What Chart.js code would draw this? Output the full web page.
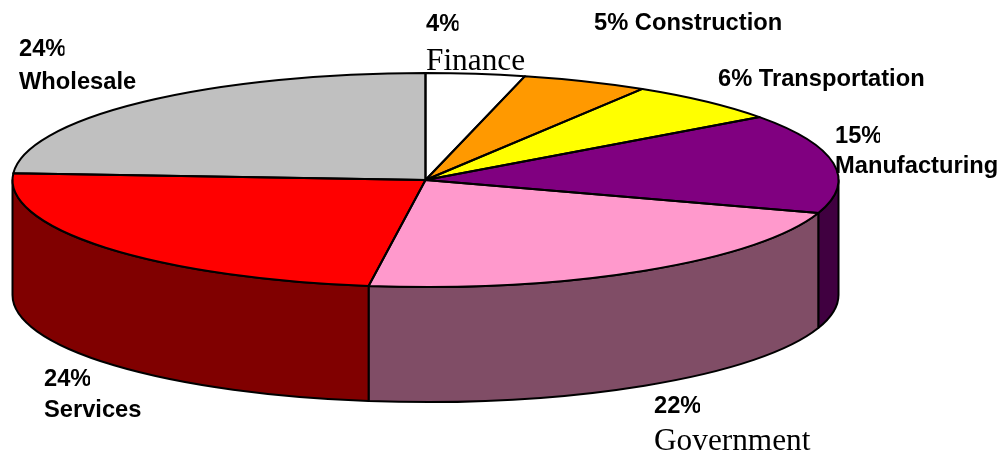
<!DOCTYPE html>
<html>
<head>
<meta charset="utf-8">
<style>
  html, body { margin: 0; padding: 0; background: #fff; }
  canvas { display: block; }
</style>
<script src="https://cdn.jsdelivr.net/npm/chart.js@4"></script>
</head>
<body>
<canvas id="myChart" width="1003" height="456"></canvas>
<script>
const categories = ["Finance", "Construction", "Transportation", "Manufacturing", "Government", "Services", "Wholesale"];
// slice sizes, the labels show them rounded
const shares = [3.87, 4.93, 6.2, 15, 22.2, 23.8, 24];
const topColors = ["#FFFFFF", "#FF9900", "#FFFF00", "#800080", "#FF99CC", "#FF0000", "#C0C0C0"];
const sideColors = ["#808080", "#804D00", "#808000", "#400040", "#804D66", "#800000", "#606060"];

// flattened disc on the page
const disc = { x: 425.5, y: 180, rx: 413, ry: 107, depth: 115 };

const BOLD = "bold 23.7px 'Liberation Sans'";
const SERIF = "31.3px 'Liberation Serif'";

// where each label goes; the percent is clipped on the right in the original
const labelSpots = [
  { pct: [426, 31, 32.5], name: [426, 70, SERIF] },
  { inline: [594, 30] },
  { inline: [718, 86] },
  { pct: [835, 143, 45], name: [835, 173, BOLD] },
  { pct: [654, 413, 46], name: [654, 450, SERIF] },
  { pct: [44, 386, 46], name: [44, 417, BOLD] },
  { pct: [19, 56, 45.5], name: [19, 89, BOLD] }
];

function discPath(ctx, from, to) {
  ctx.beginPath();
  ctx.moveTo(disc.x, disc.y);
  ctx.ellipse(disc.x, disc.y, disc.rx, disc.ry, 0, from, to);
  ctx.closePath();
}

const pie3d = {
  id: "pie3d",
  beforeDatasetsDraw(chart) {
    const ctx = chart.ctx;
    const arcs = chart.getDatasetMeta(0).data;

    // side wall, only the front half shows
    ctx.lineWidth = 2;
    ctx.strokeStyle = "#000";
    ctx.lineJoin = "round";
    arcs.forEach((arc, i) => {
      const from = Math.max(arc.startAngle, 0);
      const to = Math.min(arc.endAngle, Math.PI);
      if (to <= from) return;
      ctx.beginPath();
      ctx.ellipse(disc.x, disc.y, disc.rx, disc.ry, 0, from, to);
      ctx.ellipse(disc.x, disc.y + disc.depth, disc.rx, disc.ry, 0, to, from, true);
      ctx.closePath();
      ctx.fillStyle = sideColors[i];
      ctx.fill();
      ctx.stroke();
    });

    // the library's round pie gets squashed to the disc
    const R = arcs[0].outerRadius;
    ctx.save();
    ctx.translate(disc.x, disc.y);
    ctx.scale(disc.rx / R, disc.ry / R);
    ctx.translate(-arcs[0].x, -arcs[0].y);
  },
  afterDatasetsDraw(chart) {
    const ctx = chart.ctx;
    ctx.restore();

    ctx.lineWidth = 2;
    ctx.strokeStyle = "#000";
    chart.getDatasetMeta(0).data.forEach((arc) => {
      discPath(ctx, arc.startAngle, arc.endAngle);
      ctx.stroke();
    });

    ctx.fillStyle = "#000";
    ctx.textBaseline = "alphabetic";
    ctx.textAlign = "left";
    labelSpots.forEach((spot, i) => {
      const pct = Math.round(shares[i]) + "%";
      if (spot.inline) {
        ctx.font = BOLD;
        ctx.fillText(pct + " " + categories[i], spot.inline[0], spot.inline[1]);
        return;
      }
      ctx.save();
      ctx.beginPath();
      ctx.rect(spot.pct[0] - 2, spot.pct[1] - 30, spot.pct[2] + 2, 40);
      ctx.clip();
      ctx.font = BOLD;
      ctx.fillText(pct, spot.pct[0], spot.pct[1]);
      ctx.restore();
      ctx.font = spot.name[2];
      ctx.fillText(categories[i], spot.name[0], spot.name[1]);
    });
  }
};

new Chart(document.getElementById("myChart"), {
  type: "pie",
  data: {
    labels: categories,
    datasets: [{
      data: shares,
      backgroundColor: topColors,
      borderWidth: 0,
      clip: false
    }]
  },
  options: {
    responsive: false,
    animation: false,
    layout: { padding: 0 },
    plugins: { legend: { display: false }, tooltip: { enabled: false } }
  },
  plugins: [pie3d]
});
</script>
</body>
</html>
